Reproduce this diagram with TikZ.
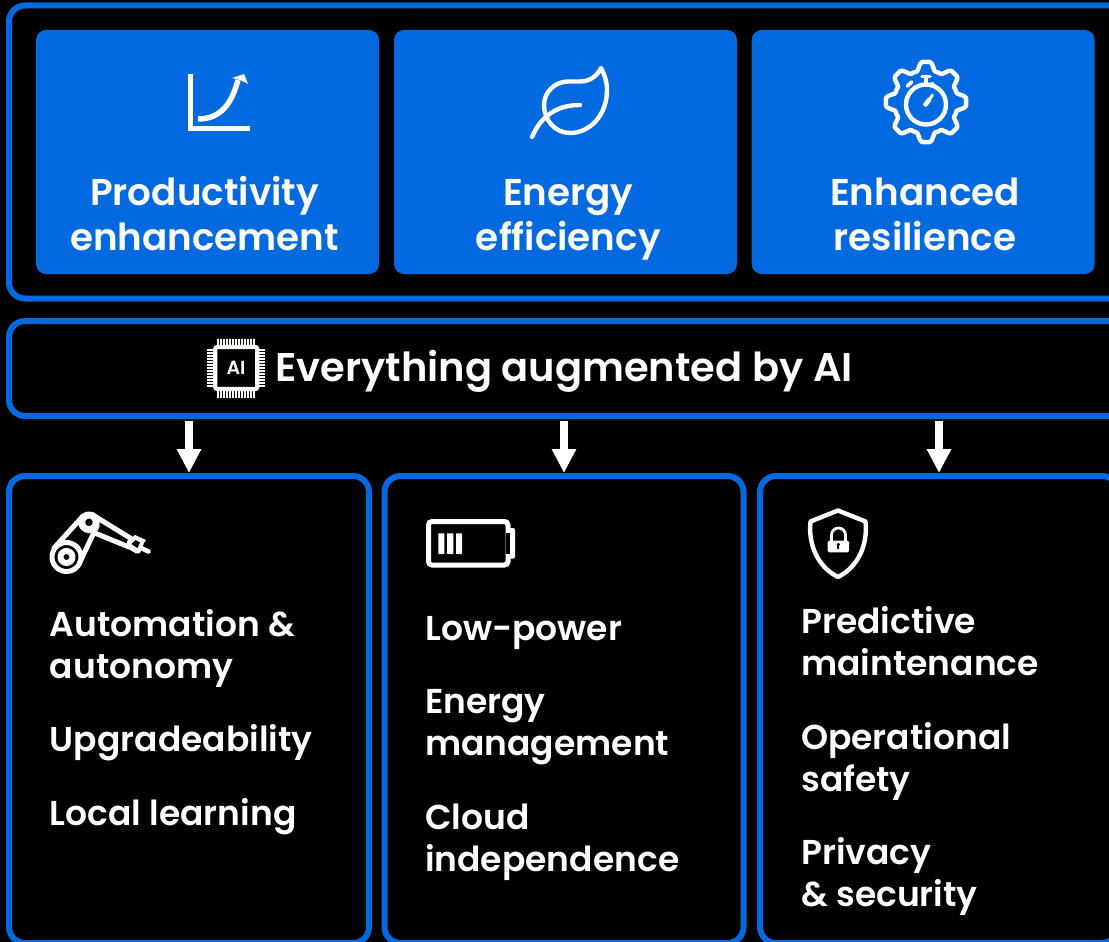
\documentclass[tikz,border=0pt]{standalone}
\usepackage{fontspec}
\setmainfont{Poppins SemiBold}
\usetikzlibrary{arrows.meta}
\definecolor{bluex}{HTML}{0369DF}
\tikzset{x=1pt,y=-1pt,
 frame/.style={draw=bluex,line width=6pt,rounded corners=16pt,anchor=north west,inner sep=0pt,outer sep=0pt},
 tile/.style={fill=bluex,rounded corners=10pt,anchor=north west,minimum width=343pt,minimum height=244pt,inner sep=0pt,outer sep=0pt},
 ttl/.style={white,font=\fontsize{37.3}{45}\selectfont,align=center,anchor=center},
 itm/.style={white,font=\fontsize{34.5}{41.8}\selectfont,align=left,anchor=north west,inner sep=0pt},
 flow/.style={white,line width=8pt,-{Triangle[width=23pt,length=24pt]},shorten >=3pt,shorten <=5pt},
 ico/.style={white,line width=4.4pt,line cap=round,line join=round}}
\pgfmathdeclarefunction{gearr}{1}{\pgfmathparse{36+5*(cos(8*#1)-0.2*cos(24*#1))}}
\begin{document}
\begin{tikzpicture}
\useasboundingbox (0,0) rectangle (1109,942);
\fill[black] (0,0) rectangle (1109,942);
\clip (0,0) rectangle (1109,942);
\node[frame,minimum width=1150pt,minimum height=293pt] (top) at (9,5.5) {};
\node[frame,minimum width=1150pt,minimum height=95pt] (ai) at (9,321) {};
\node[frame,minimum width=360pt,minimum height=467pt] (f1) at (9,476) {};
\node[frame,minimum width=359pt,minimum height=467pt] (f2) at (384.5,476) {};
\node[frame,minimum width=358pt,minimum height=467pt] (f3) at (760,476) {};
\node[tile] (t1) at (36,30) {};
\node[tile] (t2) at (394,30) {};
\node[tile] (t3) at (751.7,30) {};
\node[ttl] (l1) at (204.5,214) {Productivity\\enhancement};
\node[ttl] (l2) at (568.3,219.4) {Energy\\efficiency};
\node[ttl] (l3) at (925,214) {Enhanced\\resilience};
\node[white,font=\fontsize{40}{48}\selectfont,anchor=base west,inner sep=0pt] (h) at (275,381) {Everything augmented by AI};
\draw[flow] (ai.south -| f1.north) -- (f1.north);
\draw[flow] (ai.south -| f2.north) -- (f2.north);
\draw[flow] (ai.south -| f3.north) -- (f3.north);
\node[itm] (i11) at (49.7,609) {Automation \&\\autonomy};
\node[itm] (i12) at (49.7,724) {Upgradeability};
\node[itm] (i13) at (49.7,798) {Local learning};
\node[itm] (i21) at (425,616) {Low-power};
\node[itm] (i22) at (425,689) {Energy\\management};
\node[itm] (i23) at (425,804) {Cloud\\independence};
\node[itm] (i31) at (801,606) {Predictive\\maintenance};
\node[itm] (i32) at (801,722) {Operational\\safety};
\node[itm] (i33) at (801,837) {Privacy\\\& security};
% chart icon
\draw[white,line width=5.4pt,line join=miter] (190.7,74) -- (190.7,128.5) -- (249.5,128.5);
\draw[white,line width=5.4pt] (198,119) .. controls (222,119) and (232,102) .. (238,80);
\fill[white] (232,78) -- (244,74) -- (248,84) -- (240,80) -- cycle;
% leaf icon
\draw[ico] (601,68) .. controls (605,76) and (607,82) .. (607,90) .. controls (607,115) and (590,133) .. (570,133) .. controls (555,133) and (544,120) .. (544,105) .. controls (544,92) and (555,81.5) .. (568,81.5) -- (580,81.5) .. controls (590,81.5) and (597,76) .. (601,68) -- cycle;
\draw[ico] (532,137) .. controls (540,118) and (555,105) .. (580,105);
% gear icon
\draw[ico] plot[smooth cycle,domain=0:357,samples=120] ({926+gearr(\x)*cos(\x)},{102+gearr(\x)*sin(\x)});
\draw[ico] (926,104.5) circle[radius=20];
\draw[ico,line width=3.6pt] (922,76.5) -- (930,76.5) (926,76.5) -- (926,83);
\draw[ico,line width=3.6pt] (907.5,86) -- (911.5,82);
\fill[white] (932.5,84) circle[radius=2];
\draw[ico,line width=3pt] (929,100) -- (932.5,95);
\draw[ico,line width=4.6pt] (925.5,104.5) -- (929,100);
% chip icon
\foreach \k in {0,...,12}{
 \draw[white,line width=1.6pt] ({218+\k*3},338.5) -- ({218+\k*3},346);
 \draw[white,line width=1.6pt] ({218+\k*3},390) -- ({218+\k*3},398);
 \draw[white,line width=1.6pt] (207,{350+\k*3}) -- (214,{350+\k*3});
 \draw[white,line width=1.6pt] (258,{350+\k*3}) -- (265,{350+\k*3});
}
\draw[white,line width=4.2pt,rounded corners=2pt,fill=black] (215.3,347) rectangle (257.3,389);
\node[white,font=\fontsize{19}{19}\selectfont,inner sep=0pt] (chipai) at (236,368) {AI};
% robot arm icon
\draw[ico,line width=5pt] (66.5,557) circle[radius=14.5];
\draw[ico,line width=7pt] (89,522.3) circle[radius=7.3];
\draw[ico,line width=5pt] (79.5,563) -- (97,526) (54,548) -- (82.6,516.5);
\draw[ico,line width=6pt] (66.5,557) circle[radius=6];
\draw[ico,line width=5pt] (92,514.5) -- (131,538.5) (96,533.5) -- (129,547);
\fill[white] (127,541) -- (135,535) -- (146,540) -- (144,543) -- (140,553) -- (136,553.5) -- (127,548) -- cycle;
\fill[black] (131.5,544) -- (135.5,540) -- (140,542.5) -- (137.5,548) -- cycle;
\draw[ico,line width=4.6pt] (141,548) -- (148.5,551.5);
% battery icon
\draw[white,line width=5pt,rounded corners=3.5pt] (428.5,521.5) rectangle (508,565);
\fill[white,rounded corners=1.5pt] (506,528) rectangle (515,558.5);
\fill[black] (505.6,532.5) rectangle (510,554);
\fill[white,rounded corners=0.6pt] (438.3,533.3) rectangle (444.3,554);
\fill[white,rounded corners=0.6pt] (447,533.3) rectangle (453.3,554);
\fill[white,rounded corners=0.6pt] (456,533.3) rectangle (462,554);
% shield icon
\draw[ico] (838,510.5) -- (865.5,521.5) .. controls (868,545) and (858,567) .. (838,577) .. controls (818,567) and (808,545) .. (810.5,521.5) -- cycle;
\draw[white,line width=2.8pt] (831.5,542) -- (831.5,535) arc[start angle=180,end angle=360,radius=7] -- (845.5,542);
\fill[white,rounded corners=1.5pt] (827.7,540.7) rectangle (849,552.3);
\fill[black] (838.3,544.5) circle[radius=1.8];
\fill[black] (837.4,545) rectangle (839.2,549);
\end{tikzpicture}
\end{document}
